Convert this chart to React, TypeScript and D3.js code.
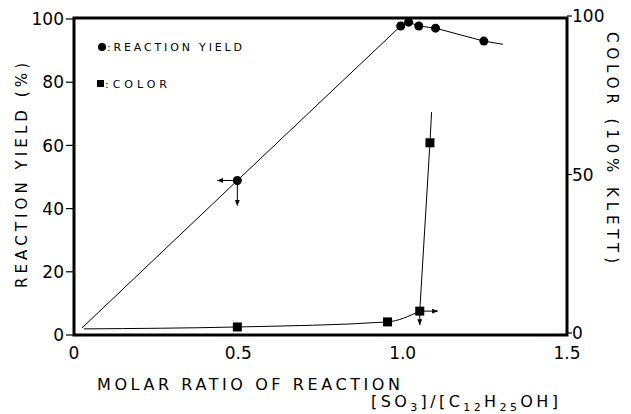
import * as d3 from "d3";

// reaction yield (%)
const yieldX = [0.024, 0.497, 0.994, 1.018, 1.049, 1.1, 1.247, 1.305];
const yieldY = [2.2, 48.9, 97.8, 99, 97.8, 97.1, 93, 92];
const yieldMarked = [1, 2, 3, 4, 5, 6];

// color (10% klett), right axis
const colorLowX = [0.03, 0.497, 0.954, 1.052];
const colorLowY = [1.3, 1.9, 3.5, 6.9];
const colorHighX = [1.052, 1.083, 1.088];
const colorHighY = [6.9, 60, 69.7];
const colorMarkedX = [0.497, 0.954, 1.052, 1.083];
const colorMarkedY = [1.9, 3.5, 6.9, 60];

const xTicks = [0, 0.5, 1.0, 1.5];
const xTickLabels = ["0", "0.5", "1.0", "1.5"];
const leftTicks = [0, 20, 40, 60, 80, 100];
const rightTicks = [0, 50, 100];

const FONT = "'DejaVu Sans', Verdana, sans-serif";

export default function App() {
  const width = 631;
  const height = 414;

  const x = d3.scaleLinear().domain([0, 1.5]).range([74, 567]);
  const yL = d3.scaleLinear().domain([0, 100]).range([335, 19]);
  const yR = d3.scaleLinear().domain([0, 100]).range([333, 16]);

  const lineL = d3
    .line<number>()
    .x((_, i) => x(yieldX[i]))
    .y((d) => yL(d));

  const lowCurve = d3
    .line<number>()
    .x((_, i) => x(colorLowX[i]))
    .y((d) => yR(d))
    .curve(d3.curveMonotoneX);

  const highLine = d3
    .line<number>()
    .x((_, i) => x(colorHighX[i]))
    .y((d) => yR(d));

  const [x0, x1] = x.range();
  const top = 18;
  const bottom = yL(0);

  return (
    <svg
      width={width}
      height={height}
      style={{ position: "absolute", left: 0, top: 0, background: "#fff" }}
      fontFamily={FONT}
    >
      <defs>
        <marker
          id="arr"
          viewBox="0 0 10 10"
          refX={9}
          refY={5}
          markerWidth={6}
          markerHeight={6}
          orient="auto"
        >
          <path d="M0,1 L10,5 L0,9 z" fill="#000" />
        </marker>
      </defs>

      {/* frame */}
      <rect
        x={x0}
        y={top}
        width={x1 - x0}
        height={bottom - top}
        fill="none"
        stroke="#000"
        strokeWidth={3}
      />

      {/* left ticks */}
      {leftTicks.map((t) => (
        <g key={"l" + t}>
          <line x1={x0 - 8} x2={x0} y1={yL(t)} y2={yL(t)} stroke="#000" strokeWidth={1.2} />
          <text x={x0 - 10} y={yL(t)} dy="0.36em" textAnchor="end" fontSize={17}>
            {t}
          </text>
        </g>
      ))}

      {/* right ticks */}
      {rightTicks.map((t) => (
        <g key={"r" + t}>
          <line x1={x1} x2={x1 + 5} y1={yR(t)} y2={yR(t)} stroke="#000" strokeWidth={1.2} />
          <text x={x1 + 5} y={yR(t)} dy="0.36em" textAnchor="start" fontSize={17}>
            {t}
          </text>
        </g>
      ))}

      {/* x tick labels */}
      {xTicks.map((t, i) => (
        <text key={"x" + t} x={x(t)} y={bottom + 24} textAnchor="middle" fontSize={17}>
          {xTickLabels[i]}
        </text>
      ))}

      {/* axis titles */}
      <text
        transform={`translate(27,${(63 + 288) / 2}) rotate(-90)`}
        textAnchor="middle"
        fontSize={15}
        textLength={225}
        lengthAdjust="spacing"
      >
        REACTION YIELD (%)
      </text>
      <text
        transform={`translate(607,${(32 + 263) / 2}) rotate(90)`}
        textAnchor="middle"
        fontSize={15}
        textLength={231}
        lengthAdjust="spacing"
      >
        COLOR (10% KLETT)
      </text>
      <text x={97} y={390} fontSize={16} textLength={303} lengthAdjust="spacing">
        MOLAR RATIO OF REACTION
      </text>
      <text x={371} y={407} fontSize={16} letterSpacing={3.4}>
        [SO
        <tspan fontSize={11} dy={4}>3</tspan>
        <tspan dy={-4}>]/[C</tspan>
        <tspan fontSize={11} dy={4}>12</tspan>
        <tspan dy={-4}>H</tspan>
        <tspan fontSize={11} dy={4}>25</tspan>
        <tspan dy={-4}>OH]</tspan>
      </text>

      {/* legend */}
      <circle cx={102} cy={47} r={4} fill="#000" />
      <text x={107} y={51} fontSize={11} textLength={135} lengthAdjust="spacing">
        :REACTION YIELD
      </text>
      <rect x={97} y={80} width={7} height={7} fill="#000" />
      <text x={105} y={88} fontSize={11} textLength={62} lengthAdjust="spacing">
        :COLOR
      </text>

      {/* reaction yield */}
      <path d={lineL(yieldY) ?? ""} fill="none" stroke="#000" strokeWidth={1} />
      {yieldMarked.map((i) => (
        <circle key={"y" + i} cx={x(yieldX[i])} cy={yL(yieldY[i])} r={4.5} fill="#000" />
      ))}

      {/* color */}
      <path d={lowCurve(colorLowY) ?? ""} fill="none" stroke="#000" strokeWidth={1} />
      <path d={highLine(colorHighY) ?? ""} fill="none" stroke="#000" strokeWidth={1} />
      {colorMarkedX.map((cx, i) => (
        <rect
          key={"c" + i}
          x={x(cx) - 4.5}
          y={yR(colorMarkedY[i]) - 4.5}
          width={9}
          height={9}
          fill="#000"
        />
      ))}

      {/* arrows pointing to the axis each series belongs to */}
      <line
        x1={x(0.497)}
        y1={yL(48.9)}
        x2={x(0.437)}
        y2={yL(48.9)}
        stroke="#000"
        strokeWidth={1}
        markerEnd="url(#arr)"
      />
      <line
        x1={x(0.497)}
        y1={yL(48.9)}
        x2={x(0.497)}
        y2={yL(41)}
        stroke="#000"
        strokeWidth={1}
        markerEnd="url(#arr)"
      />
      <line
        x1={x(1.052)}
        y1={yR(6.9)}
        x2={x(1.106)}
        y2={yR(6.9)}
        stroke="#000"
        strokeWidth={1}
        markerEnd="url(#arr)"
      />
      <line
        x1={x(1.052)}
        y1={yR(6.9)}
        x2={x(1.052)}
        y2={yR(2.6)}
        stroke="#000"
        strokeWidth={1}
        markerEnd="url(#arr)"
      />
    </svg>
  );
}
